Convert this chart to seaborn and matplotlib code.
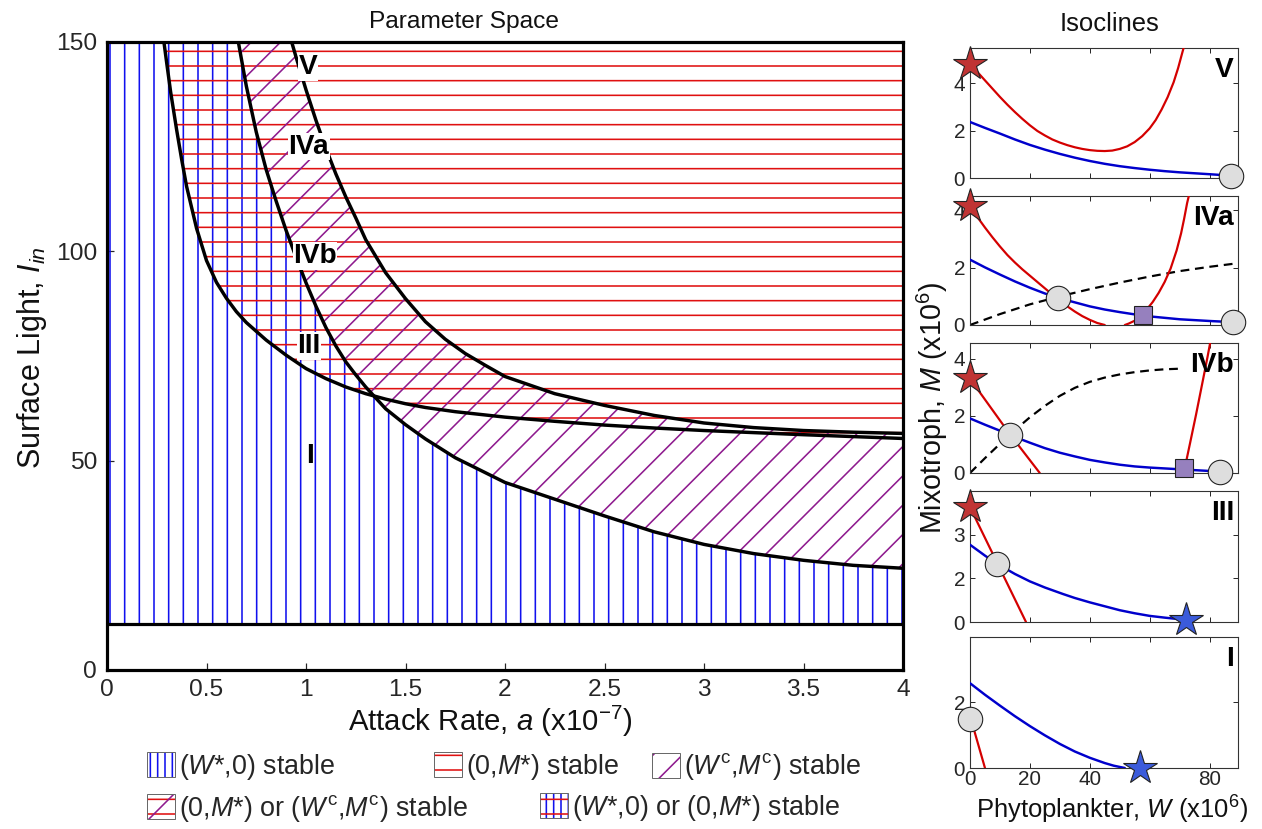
import numpy as np
import matplotlib
matplotlib.use("Agg")
import matplotlib.pyplot as plt
import seaborn as sns
from matplotlib.patches import Patch

# ---------------- data: parameter space (a in 1e-7, I_in) ----------------
a_red = [0.286, 0.30, 0.32, 0.35, 0.375, 0.40, 0.45, 0.50, 0.55, 0.60, 0.65, 0.70, 0.80, 0.90, 1.00,
         1.10, 1.20, 1.30, 1.40, 1.50, 1.60, 1.75, 2.00, 2.25, 2.50, 2.75, 3.00, 3.50, 4.00]
I_red = [150, 145, 138, 129, 122, 115.5, 105.5, 97.8, 92.6, 88.8, 85.6, 83.0, 78.8, 75.2, 72.0,
         69.6, 67.6, 66.0, 64.7, 63.6, 62.7, 61.7, 60.4, 59.4, 58.5, 57.8, 57.2, 56.2, 55.3]

a_blue = [0.66, 0.70, 0.75, 0.80, 0.85, 0.90, 0.95, 1.00, 1.05, 1.10, 1.15, 1.20, 1.25, 1.30, 1.40,
          1.50, 1.60, 1.75, 2.00, 2.25, 2.50, 2.75, 3.00, 3.25, 3.50, 3.75, 4.00]
I_blue = [150, 139.5, 128.5, 119.5, 112.0, 105.0, 98.6, 92.5, 86.9, 81.8, 77.4, 73.6, 70.5, 67.6, 62.4,
          58.6, 55.2, 50.7, 44.8, 40.8, 36.8, 33.0, 30.0, 27.8, 26.2, 25.0, 24.3]

a_coex = [0.928, 0.95, 1.00, 1.05, 1.10, 1.15, 1.20, 1.25, 1.30, 1.40, 1.50, 1.60, 1.70, 1.80, 1.90,
          2.00, 2.25, 2.50, 2.75, 3.00, 3.25, 3.50, 3.75, 4.00]
I_coex = [150, 146.4, 138.6, 131.3, 124.6, 118.5, 113.0, 108.0, 102.8, 94.9, 88.7, 83.2, 79.0, 75.6, 72.8,
          70.1, 66.0, 63.2, 60.8, 59.0, 57.9, 57.2, 56.8, 56.5]

I_min = 11.1
a_max = 4.0
I_max = 150

x_ticks = [0, 0.5, 1, 1.5, 2, 2.5, 3, 3.5, 4]
x_tick_labels = ["0", "0.5", "1", "1.5", "2", "2.5", "3", "3.5", "4"]
y_ticks = [0, 50, 100, 150]

region_names = ["V", "IVa", "IVb", "III", "I"]
region_a = [1.01, 1.015, 1.045, 1.015, 1.02]
region_I = [144, 125, 98.9, 77.4, 51.1]

# ---------------- data: isoclines (W, M in 1e6) ----------------
V_red_W = [0, 2, 4, 6, 8, 10, 12.5, 15, 17.5, 20, 22.5, 25, 27.5, 30, 32.5, 35, 37.5, 40, 42.5, 45,
           47.5, 50, 52.5, 55, 57.5, 60, 62, 64, 66, 68, 69.5, 71, 72]
V_red_M = [4.83, 4.55, 4.27, 3.99, 3.71, 3.43, 3.10, 2.79, 2.50, 2.23, 1.99, 1.80, 1.63, 1.50, 1.39,
           1.30, 1.23, 1.18, 1.15, 1.14, 1.16, 1.23, 1.34, 1.52, 1.77, 2.10, 2.45, 2.90, 3.42, 4.05,
           4.65, 5.35, 5.8]
V_blue_W = [0, 5, 10, 15, 20, 25, 30, 35, 40, 45, 50, 55, 60, 65, 70, 75, 80, 87.2]
V_blue_M = [2.37, 2.12, 1.88, 1.63, 1.40, 1.20, 1.02, 0.86, 0.72, 0.60, 0.50, 0.42, 0.35, 0.29, 0.24,
            0.20, 0.16, 0.1]

IVa_redL_W = [0, 2.5, 5, 7.5, 10, 12.5, 15, 17.5, 20, 22.5, 25, 27.5, 30, 32.5, 35, 37.5, 40, 42.5, 45]
IVa_redL_M = [4.15, 3.76, 3.40, 3.06, 2.74, 2.44, 2.18, 1.94, 1.72, 1.50, 1.28, 1.06, 0.85, 0.65, 0.47,
              0.31, 0.18, 0.07, 0.0]
IVa_redR_W = [51.7, 53, 55, 57, 59, 61, 63, 65, 67, 69, 70.5, 71.5, 72.5, 73.3]
IVa_redR_M = [0, 0.05, 0.15, 0.32, 0.54, 0.8, 1.12, 1.5, 1.97, 2.6, 3.2, 3.7, 4.25, 4.6]
IVa_blue_W = [0, 5, 10, 15, 20, 25, 30, 35, 40, 45, 50, 55, 60, 65, 70, 75, 80, 87.8]
IVa_blue_M = [2.28, 2.01, 1.76, 1.52, 1.30, 1.10, 0.93, 0.79, 0.65, 0.54, 0.45, 0.37, 0.30, 0.25, 0.20,
              0.17, 0.14, 0.1]
IVa_dash_W = [0, 10, 20, 30, 40, 50, 60, 70, 80, 88.3]
IVa_dash_M = [0, 0.38, 0.72, 1.0, 1.25, 1.48, 1.69, 1.88, 2.03, 2.14]

IVb_redL_W = [0, 13.3, 23.3]
IVb_redL_M = [3.3, 1.36, 0]
IVb_redR_W = [71.7, 73.5, 75.5, 77.5, 79.3, 80.2]
IVb_redR_M = [0.16, 1.05, 2.05, 3.1, 4.05, 4.55]
IVb_blue_W = [0, 5, 10, 15, 20, 25, 30, 35, 40, 45, 50, 55, 60, 65, 70, 75, 83.6]
IVb_blue_M = [1.91, 1.69, 1.48, 1.26, 1.06, 0.87, 0.71, 0.58, 0.46, 0.37, 0.29, 0.23, 0.19, 0.16, 0.13,
              0.1, 0.05]
IVb_dash_W = [0, 5, 10, 15, 20, 25, 30, 35, 40, 45, 50, 55, 60, 65, 70]
IVb_dash_M = [0, 0.52, 1.02, 1.5, 1.95, 2.35, 2.7, 2.98, 3.19, 3.34, 3.45, 3.53, 3.59, 3.63, 3.65]

III_red_W = [0, 18.7]
III_red_M = [2.63, 0]
III_blue_W = [0, 5, 9.1, 15, 20, 25, 31.1, 35, 40, 45, 50, 55, 60, 65, 72]
III_blue_M = [1.77, 1.52, 1.33, 1.1, 0.93, 0.79, 0.64, 0.55, 0.45, 0.36, 0.27, 0.2, 0.14, 0.1, 0.05]

I_red_W = [0, 5]
I_red_M = [1.58, 0]
I_blue_W = [0, 5, 10, 15, 20, 25, 30, 35, 40, 45, 48, 51.7]
I_blue_M = [2.57, 2.22, 1.89, 1.57, 1.27, 0.99, 0.73, 0.5, 0.31, 0.15, 0.07, 0.0]

# equilibrium markers: (W, M)
red_star_pts = {"V": (0, 4.83), "IVa": (0, 4.15), "IVb": (0, 3.31), "III": (0, 2.63)}
blue_star_pts = {"III": (72, 0.05), "I": (56.7, 0)}
circle_pts = {"V": [(87.2, 0.1)], "IVa": [(29.4, 0.94), (87.8, 0.12)],
              "IVb": [(13.3, 1.33), (83.6, 0.05)], "III": [(9.1, 1.32)], "I": [(0, 1.48)]}
square_pts = {"IVa": [(57.8, 0.35)], "IVb": [(71.4, 0.19)]}

iso_ylims = {"V": 5.5, "IVa": 4.5, "IVb": 4.55, "III": 3.0, "I": 3.97}
iso_yticks = {"V": [0, 2, 4], "IVa": [0, 2, 4], "IVb": [0, 2, 4], "III": [0, 1, 2], "I": [0, 2]}
iso_yticklabels = {"V": ["0", "2", "4"], "IVa": ["0", "2", "4"], "IVb": ["0", "2", "4"],
                   "III": ["0", "2", "3"], "I": ["0", "2"]}
iso_xticks = [0, 20, 40, 60, 80]
iso_xticklabels = ["0", "20", "40", "", "80"]
W_max = 89.5

legend_labels = [r"($W$*,0) stable", r"(0,$M$*) stable", r"($W^{\mathrm{c}}$,$M^{\mathrm{c}}$) stable",
                 r"(0,$M$*) or ($W^{\mathrm{c}}$,$M^{\mathrm{c}}$) stable", r"($W$*,0) or (0,$M$*) stable"]

# ---------------- styling ----------------
sns.set_style("white")
plt.rcParams["font.family"] = ["Liberation Sans", "DejaVu Sans"]
plt.rcParams["mathtext.fontset"] = "custom"
plt.rcParams["mathtext.rm"] = "Liberation Sans"
plt.rcParams["mathtext.it"] = "Liberation Sans:italic"
plt.rcParams["mathtext.bf"] = "Liberation Sans:bold"
plt.rcParams["hatch.linewidth"] = 1.3

BLUE_H = "#1010EE"
RED_H = "#E01010"
PURPLE_H = "#8E1B8E"
ISO_RED = "#D40000"
ISO_BLUE = "#0000CC"
TXT = "#262626"

W_PX, H_PX, DPI = 1262, 829, 88
fig = plt.figure(figsize=(W_PX / DPI, H_PX / DPI), dpi=DPI)


def fx(px):
    return px / W_PX


def fy(py):
    return 1 - py / H_PX


# ---------------- main parameter-space axes ----------------
ax = fig.add_axes([fx(107), fy(670), fx(903) - fx(107), fy(42) - fy(670)])
ax.set_xlim(0, a_max)
ax.set_ylim(0, I_max)

ax.fill([0, 0] + a_blue + [a_max], [I_min, I_max] + I_blue + [I_min],
        facecolor="none", edgecolor=BLUE_H, hatch="|", linewidth=0, zorder=1)
ax.fill(a_red + [a_max], I_red + [I_max],
        facecolor="none", edgecolor=RED_H, hatch="-", linewidth=0, zorder=1)
ax.fill(a_blue + a_coex[::-1], I_blue + I_coex[::-1],
        facecolor="none", edgecolor=PURPLE_H, hatch="/", linewidth=0, zorder=1)

for xs, ys in [(a_red, I_red), (a_blue, I_blue), (a_coex, I_coex)]:
    sns.lineplot(x=xs, y=ys, sort=False, estimator=None, color="black", lw=2.8, ax=ax, zorder=3)
ax.axhline(I_min, color="black", lw=2.6, zorder=3)

for name, xa, yi in zip(region_names, region_a, region_I):
    ax.text(xa, yi, name, ha="center", va="center", fontsize=23, fontweight="bold", color="black",
            bbox=dict(facecolor="white", edgecolor="none", pad=0.4), zorder=6)

ax.set_xticks(x_ticks)
ax.set_xticklabels(x_tick_labels)
ax.set_yticks(y_ticks)
ax.tick_params(axis="both", direction="in", length=6, width=1, colors=TXT, labelsize=20,
               left=True, bottom=True, top=False, right=False)
ax.tick_params(axis="x", pad=7)
ax.tick_params(axis="y", pad=8)
for sp in ax.spines.values():
    sp.set_linewidth(2.6)
    sp.set_color("black")
    sp.set_zorder(7)
ax.set_xlabel(r"Attack Rate, $a$ (x10$^{-7}$)", fontsize=24, color="#111111")
ax.xaxis.set_label_coords((490 - 107) / 796, (670 - 721) / 628)
ax.xaxis.label.set_va("center")
ax.set_ylabel(r"Surface Light, $I_{in}$", fontsize=25, color="#111111")
ax.yaxis.set_label_coords((32 - 107) / 796, (670 - 358) / 628)
ax.yaxis.label.set_va("center")

fig.text(fx(464), fy(22), "Parameter Space", ha="center", va="center", fontsize=20, color="#111111")

# ---------------- isocline panels ----------------
panel_names = ["V", "IVa", "IVb", "III", "I"]
panel_tops = [48, 196, 343, 491, 637]
panel_bottoms = [178, 325, 473, 622, 768]

red_lines = {"V": [(V_red_W, V_red_M)],
             "IVa": [(IVa_redL_W, IVa_redL_M), (IVa_redR_W, IVa_redR_M)],
             "IVb": [(IVb_redL_W, IVb_redL_M), (IVb_redR_W, IVb_redR_M)],
             "III": [(III_red_W, III_red_M)],
             "I": [(I_red_W, I_red_M)]}
blue_lines = {"V": (V_blue_W, V_blue_M), "IVa": (IVa_blue_W, IVa_blue_M),
              "IVb": (IVb_blue_W, IVb_blue_M), "III": (III_blue_W, III_blue_M),
              "I": (I_blue_W, I_blue_M)}
dash_lines = {"IVa": (IVa_dash_W, IVa_dash_M), "IVb": (IVb_dash_W, IVb_dash_M)}

for name, top, bot in zip(panel_names, panel_tops, panel_bottoms):
    pax = fig.add_axes([fx(970), fy(bot), fx(1238) - fx(970), fy(top) - fy(bot)])
    pax.set_xlim(0, W_max)
    pax.set_ylim(0, iso_ylims[name])
    if name in dash_lines:
        dw, dm = dash_lines[name]
        sns.lineplot(x=dw, y=dm, sort=False, estimator=None, color="black", lw=1.8,
                     linestyle=(0, (4, 2.6)), ax=pax, zorder=2)
    bw, bm = blue_lines[name]
    sns.lineplot(x=bw, y=bm, sort=False, estimator=None, color=ISO_BLUE, lw=2.0, ax=pax, zorder=3)
    for rw, rm in red_lines[name]:
        sns.lineplot(x=rw, y=rm, sort=False, estimator=None, color=ISO_RED, lw=1.8, ax=pax, zorder=3)
    for (cw, cm) in circle_pts.get(name, []):
        pax.plot([cw], [cm], marker="o", ms=20, mfc="#DEDEDE", mec="#222222", mew=0.9,
                 clip_on=False, zorder=8, ls="none")
    for (sw, sm) in square_pts.get(name, []):
        pax.plot([sw], [sm], marker="s", ms=15, mfc="#9680BE", mec="#222222", mew=0.9,
                 clip_on=False, zorder=8, ls="none")
    if name in red_star_pts:
        rw, rm = red_star_pts[name]
        pax.plot([rw], [rm], marker="*", ms=29, mfc="#C03434", mec="#222222", mew=0.9,
                 clip_on=False, zorder=9, ls="none")
    if name in blue_star_pts:
        bsw, bsm = blue_star_pts[name]
        pax.plot([bsw], [bsm], marker="*", ms=29, mfc="#3B5BDB", mec="#222222", mew=0.9,
                 clip_on=False, zorder=9, ls="none")
    pax.text(0.985, 0.93, name, transform=pax.transAxes, ha="right", va="top",
             fontsize=23, fontweight="bold", color="black", zorder=6)
    pax.set_xticks(iso_xticks)
    pax.set_yticks(iso_yticks[name])
    pax.set_yticklabels(iso_yticklabels[name])
    if name == "I":
        pax.set_xticklabels(iso_xticklabels)
    else:
        pax.set_xticklabels([])
    pax.tick_params(axis="both", direction="in", length=4, width=0.8, colors=TXT, labelsize=17,
                    left=True, bottom=True, top=True, right=True)
    pax.tick_params(axis="x", pad=2)
    pax.tick_params(axis="y", pad=4)
    for sp in pax.spines.values():
        sp.set_linewidth(0.9)
        sp.set_color("#333333")
    pax.set_xlabel("")
    pax.set_ylabel("")

fig.text(fx(1110), fy(24), "Isoclines", ha="center", va="center", fontsize=21, color="#111111")
fig.text(fx(1112), fy(810), r"Phytoplankter, $W$ (x10$^6$)", ha="center", va="center",
         fontsize=21, color="#111111")
fig.text(fx(932), fy(408), r"Mixotroph, $M$ (x10$^6$)", ha="center", va="center",
         rotation=90, fontsize=23.5, color="#111111")

# ---------------- legend ----------------
def hpatch(color, hatch):
    return Patch(facecolor="none", edgecolor=color, hatch=hatch, linewidth=0)


frame = Patch(facecolor="none", edgecolor="#666666", linewidth=0.8)
leg_handles = [
    (hpatch(BLUE_H, "||"), frame),
    (hpatch(RED_H, "-"), frame),
    (hpatch(PURPLE_H, "/"), frame),
    (hpatch(RED_H, "-"), hpatch(PURPLE_H, "/"), frame),
    (hpatch(BLUE_H, "||"), hpatch(RED_H, "-"), frame),
]
leg_pos = [(147, 767), (434, 767), (652, 767), (147, 808), (540, 808)]
for h, lab, (px, py) in zip(leg_handles, legend_labels, leg_pos):
    fig.legend(handles=[h], labels=[lab], loc="center left",
               bbox_to_anchor=(fx(px), fy(py)), bbox_transform=fig.transFigure,
               frameon=False, borderpad=0, borderaxespad=0, handlelength=1.05,
               handleheight=1.05, handletextpad=0.15, fontsize=22)

fig.savefig("out.png", dpi=DPI)
